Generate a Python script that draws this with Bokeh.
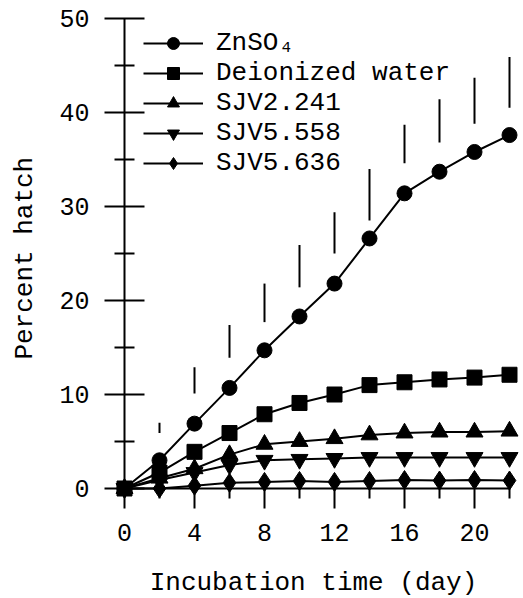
import math
from bokeh.plotting import figure
from bokeh.models import Range1d, FixedTicker, Legend, LegendItem, Label
from bokeh.embed import file_html
from bokeh.resources import INLINE

# ---- data ----
days = [0, 2, 4, 6, 8, 10, 12, 14, 16, 18, 20, 22]
znso4 = [0, 3.0, 6.9, 10.7, 14.7, 18.3, 21.8, 26.6, 31.4, 33.7, 35.8, 37.6]
water = [0, 1.7, 3.9, 5.9, 7.9, 9.1, 10.0, 11.0, 11.3, 11.6, 11.8, 12.1]
sjv2241 = [0, 1.1, 2.1, 3.6, 4.7, 5.0, 5.3, 5.7, 5.9, 6.0, 6.0, 6.1]
sjv5558 = [0, 0.9, 1.7, 2.5, 3.0, 3.1, 3.2, 3.3, 3.3, 3.3, 3.3, 3.3]
sjv5636 = [0, 0.0, 0.3, 0.6, 0.7, 0.8, 0.7, 0.8, 0.9, 0.85, 0.9, 0.85]
err_days = [2, 4, 6, 8, 10, 12, 14, 16, 18, 20, 22]
err_lo = [5.9, 10.1, 13.9, 17.7, 21.4, 25.0, 28.5, 34.6, 36.8, 38.8, 40.5]
err_hi = [7.0, 12.9, 17.4, 21.8, 25.9, 29.4, 34.0, 38.7, 41.4, 43.7, 45.9]
labels = ["ZnSO\u2084", "Deionized water", "SJV2.241", "SJV5.558", "SJV5.636"]
x_ticks = [0, 4, 8, 12, 16, 20]
x_minor = [2, 6, 10, 14, 18, 22]
y_ticks = [0, 10, 20, 30, 40, 50]
y_minor = [5, 15, 25, 35, 45]

FONT = "Liberation Mono"
W, H = 522, 597

p = figure(width=W, height=H, output_backend="svg", toolbar_location=None,
           x_range=Range1d(-124 / 17.5, (W - 124) / 17.5),
           y_range=Range1d(-(H - 488) / 9.4, 488 / 9.4),
           min_border_left=0, min_border_right=0, min_border_top=0,
           min_border_bottom=0)
p.grid.visible = False
p.outline_line_color = None
p.background_fill_color = "white"

# axes
xa = p.xaxis[0]
xa.fixed_location = 0
xa.bounds = (0, 22)
xa.ticker = FixedTicker(ticks=x_ticks, minor_ticks=x_minor)
xa.major_tick_in = 0
xa.major_tick_out = 20
xa.minor_tick_in = 0
xa.minor_tick_out = 10
xa.major_label_standoff = 15

ya = p.yaxis[0]
ya.fixed_location = 0
ya.bounds = (0, 50)
ya.ticker = FixedTicker(ticks=y_ticks, minor_ticks=y_minor)
ya.major_tick_in = 20
ya.major_tick_out = 20
ya.minor_tick_in = 10
ya.minor_tick_out = 10
ya.major_label_standoff = 15

for ax in (xa, ya):
    ax.axis_line_width = 2
    ax.major_tick_line_width = 2
    ax.minor_tick_line_width = 2
    ax.axis_line_color = "black"
    ax.major_tick_line_color = "black"
    ax.minor_tick_line_color = "black"
    ax.major_label_text_font = FONT
    ax.major_label_text_font_size = "25px"
    ax.major_label_text_color = "black"

# error bars (ZnSO4)
p.segment(x0=err_days, y0=err_lo, x1=err_days, y1=err_hi,
          line_width=2, line_color="black")

series = [
    (znso4, "circle", 15),
    (water, "square", 15),
    (sjv2241, "triangle", 17),
    (sjv5558, "inverted_triangle", 17),
    (sjv5636, "diamond", 19),
]
items = []
for (vals, mk, sz), lab in zip(series, labels):
    lr = p.line(days, vals, line_width=2, line_color="black")
    sr = p.scatter(days, vals, marker=mk, size=sz,
                   fill_color="black", line_color="black")
    items.append(LegendItem(label=lab, renderers=[lr, sr]))

legend = Legend(items=items, location=(143, 419), glyph_width=60,
                glyph_height=30, spacing=0, label_standoff=13, padding=0,
                margin=0, border_line_color=None, background_fill_alpha=0,
                label_text_font=FONT, label_text_font_size="26px",
                label_text_color="black")
p.add_layout(legend)

p.add_layout(Label(x=10.8, y=-10.0, text="Incubation time (day)",
                   text_align="center", text_baseline="middle",
                   text_font=FONT, text_font_size="26px",
                   text_color="black"))
p.add_layout(Label(x=-5.66, y=24.5, text="Percent hatch", angle=math.pi / 2,
                   text_align="center", text_baseline="middle",
                   text_font=FONT, text_font_size="26px",
                   text_color="black"))

open("out.html", "w").write(file_html(p, INLINE))
